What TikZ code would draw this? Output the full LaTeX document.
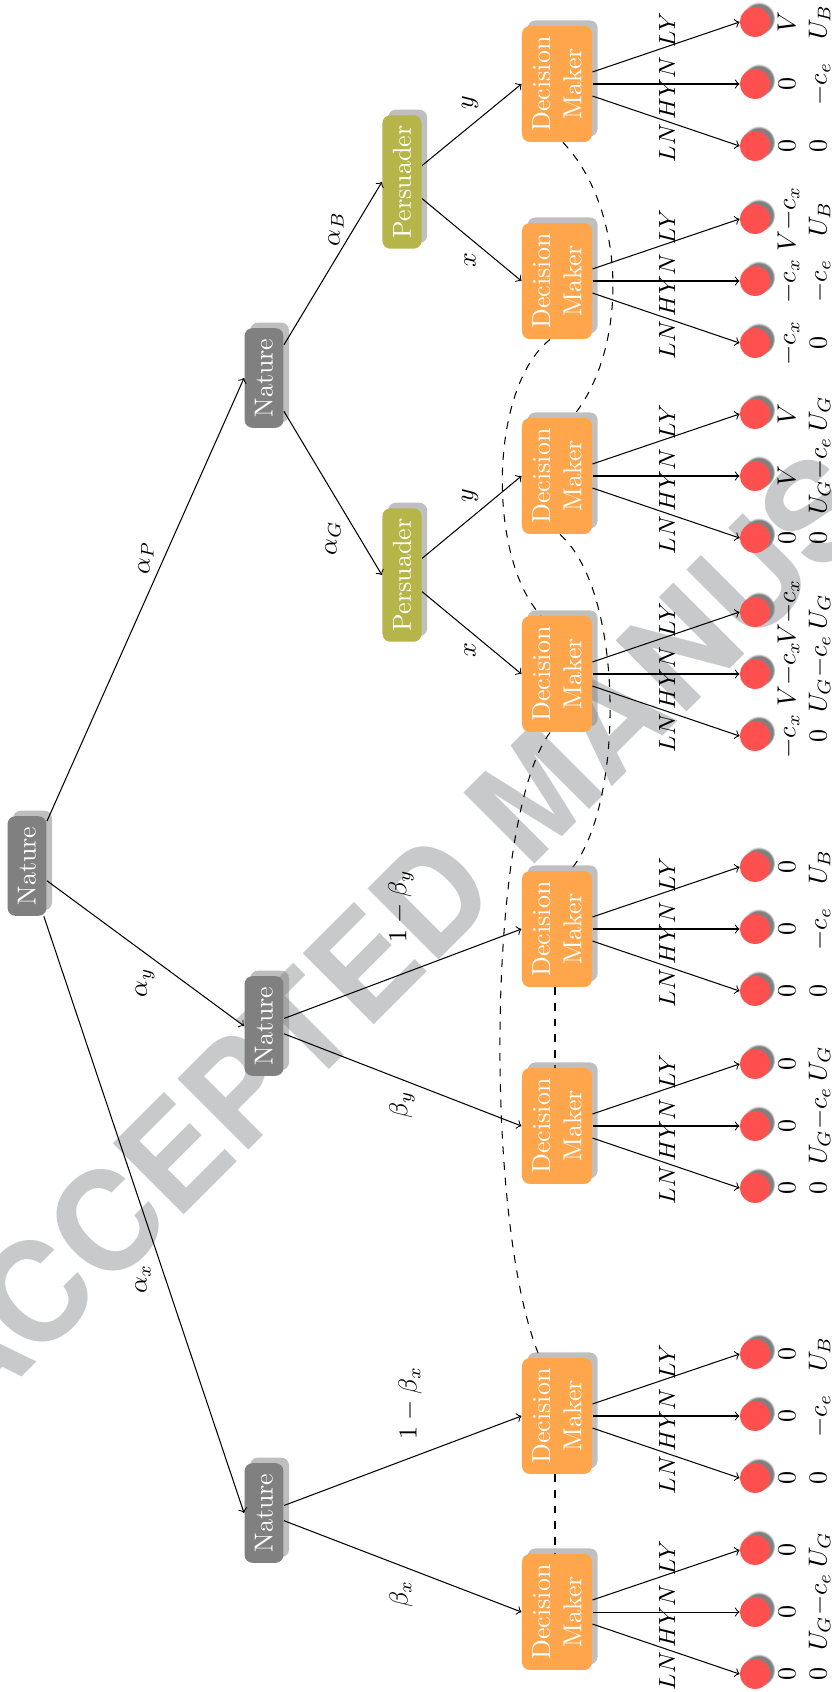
\documentclass[tikz,border=0pt]{standalone}
\usepackage{fontspec}
\newfontfamily\wmfont{TeX Gyre Heros}
\usetikzlibrary{shadows,calc,fadings}
\definecolor{natgray}{RGB}{128,128,128}
\definecolor{persolive}{RGB}{181,181,74}
\definecolor{dmorange}{RGB}{255,166,77}
\definecolor{leafred}{RGB}{255,80,80}
\definecolor{wmgray}{RGB}{200,201,203}
\pgfdeclarelayer{wm}
\pgfdeclarelayer{info}
\pgfsetlayers{wm,info,main}
\begin{document}
\begin{tikzpicture}[x=0.3846pt,y=-0.3846pt,
  box/.style={rectangle, rounded corners=3pt, rotate=90, text=white, inner sep=4pt, drop shadow={shadow xshift=.5ex, shadow yshift=.5ex}, align=center},
  nat/.style={box, fill=natgray},
  pers/.style={box, fill=persolive},
  dm/.style={box, fill=dmorange},
  leaf/.style={circle, fill=leafred, minimum size=11.5pt, inner sep=0pt, circular drop shadow={shadow xshift=.3ex, shadow yshift=.3ex}},
  lbl/.style={rotate=90, inner sep=0pt},
  mv/.style={rotate=90, anchor=base, inner sep=0pt, font=\small},
  pay/.style={rotate=90, anchor=north, inner sep=0pt, align=center},
  info/.style={dashed}
]
\useasboundingbox (0,0) rectangle (832,1692);

\begin{pgfonlayer}{wm}
\node[rotate=45, text=wmgray, font=\wmfont\bfseries\fontsize{53}{58}\selectfont] (wm) at (538,790) {ACCEPTED MANUSCRIPT};
\end{pgfonlayer}

% nodes
\node[nat] (root) at (27,866) {Nature};
\node[nat] (NP) at (264,378) {Nature};
\node[nat] (NY) at (264,1026) {Nature};
\node[nat] (NX) at (264,1513) {Nature};
\node[pers] (PB) at (402,182) {Persuader};
\node[pers] (PG) at (402,575) {Persuader};
\node[dm] (D1) at (557,84) {Decision\\Maker};
\node[dm] (D2) at (557,281) {Decision\\Maker};
\node[dm] (D3) at (557,476) {Decision\\Maker};
\node[dm] (D4) at (557,674) {Decision\\Maker};
\node[dm] (D5) at (557,929) {Decision\\Maker};
\node[dm] (D6) at (557,1126) {Decision\\Maker};
\node[dm] (D7) at (557,1416) {Decision\\Maker};
\node[dm] (D8) at (557,1612) {Decision\\Maker};

% edges
\draw[->] (root) -- (NP.north);
\draw[->] (root) -- (NY.north);
\draw[->] (root) -- (NX.north);
\draw[->] (NP) -- (PB.north);
\draw[->] (NP) -- (PG.north);
\draw[->] (PB) -- (D1.north);
\draw[->] (PB) -- (D2.north);
\draw[->] (PG) -- (D3.north);
\draw[->] (PG) -- (D4.north);
\draw[->] (NY) -- (D5.north);
\draw[->] (NY) -- (D6.north);
\draw[->] (NX) -- (D7.north);
\draw[->] (NX) -- (D8.north);

% edge labels
\node[lbl] (lP) at (146,558) {$\alpha_P$};
\node[lbl] (lY) at (145,983) {$\alpha_y$};
\node[lbl] (lX) at (143,1279) {$\alpha_x$};
\node[lbl] (lG) at (333,538) {$\alpha_G$};
\node[lbl] (lB) at (336,229) {$\alpha_B$};
\node[lbl] (l1by) at (401,906) {$1-\beta_y$};
\node[lbl] (lby) at (402,1105) {$\beta_y$};
\node[lbl] (l1bx) at (410,1403) {$1-\beta_x$};
\node[lbl] (lbx) at (401,1594) {$\beta_x$};
\node[lbl] (ly1) at (470,103) {$y$};
\node[lbl] (lx1) at (470,260) {$x$};
\node[lbl] (ly2) at (470,496) {$y$};
\node[lbl] (lx2) at (470,650) {$x$};

% leaves
\foreach \i/\y/\pa/\pb/\pc/\pd/\pe/\pf in {
  1/84/V/U_B/0/-c_e/0/0,
  2/281/V{-}c_x/U_B/-c_x/-c_e/-c_x/0,
  3/476/V/U_G/V/U_G{-}c_e/0/0,
  4/674/V{-}c_x/U_G/V{-}c_x/U_G{-}c_e/-c_x/0,
  5/929/0/U_B/0/-c_e/0/0,
  6/1126/0/U_G/0/U_G{-}c_e/0/0,
  7/1416/0/U_B/0/-c_e/0/0,
  8/1612/0/U_G/0/U_G{-}c_e/0/0}
{
  \node[leaf] (La\i) at (755,{\y-62}) {};
  \node[leaf] (Lb\i) at (755,\y) {};
  \node[leaf] (Lc\i) at (755,{\y+62}) {};
  \draw[->] (D\i) -- (La\i.west);
  \draw[->] (D\i) -- (Lb\i.west);
  \draw[->] (D\i) -- (Lc\i.west);
  \node[mv] (ma\i) at (675,{\y-54}) {$LY$};
  \node[mv] (mb\i) at (675,{\y+4}) {$HYN$};
  \node[mv] (mc\i) at (675,{\y+59}) {$LN$};
  \node[pay] (pa\i) at (773,{\y-62}) {\strut$\pa$\\$\pb$};
  \node[pay] (pb\i) at (773,\y) {\strut$\pc$\\$\pd$};
  \node[pay] (pc\i) at (773,{\y+62}) {\strut$\pe$\\$\pf$};
}

% information sets
\begin{pgfonlayer}{info}
\draw[info] ($(D1.west)+(6,0)$) .. controls (628,211) and (628,350) .. ($(D3.east)+(15,0)$);
\draw[info] ($(D2.west)+(-7,0)$) .. controls (488,389) and (488,559) .. ($(D4.east)+(-16,0)$);
\draw[info] ($(D3.west)+(3,0)$) .. controls (625,591) and (625,808) .. ($(D5.east)+(13,0)$);
\draw[info] ($(D4.west)+(-7,0)$) .. controls (485,821) and (485,1230) .. ($(D7.east)+(-17,0)$);
\draw[info] ($(D5.west)+(-2,0)$) -- ($(D6.east)+(-2,0)$);
\draw[info] ($(D7.west)+(-2,0)$) -- ($(D8.east)+(-2,0)$);
\end{pgfonlayer}
\end{tikzpicture}
\end{document}
